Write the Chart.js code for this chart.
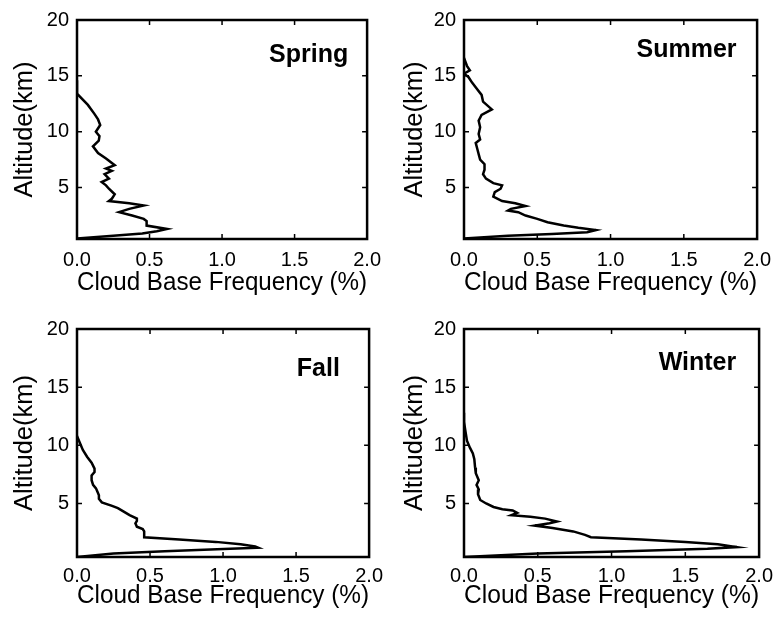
<!DOCTYPE html>
<html>
<head>
<meta charset="utf-8">
<script src="https://cdn.jsdelivr.net/npm/chart.js@4/dist/chart.umd.min.js"></script>
<style>
  html, body { margin: 0; padding: 0; background: #fff; }
  #wrap { position: relative; width: 780px; height: 618px; overflow: hidden; }
  canvas { position: absolute; }
</style>
</head>
<body>
<div id="wrap">
  <canvas id="spring" width="390" height="309" style="left:0;top:0"></canvas>
  <canvas id="summer" width="390" height="309" style="left:390px;top:0"></canvas>
  <canvas id="fall" width="390" height="309" style="left:0;top:309px"></canvas>
  <canvas id="winter" width="390" height="309" style="left:390px;top:309px"></canvas>
</div>
<script>
// Axis ticks
const xTicks = [0, 0.5, 1.0, 1.5, 2.0];
const yTicks = [5, 10, 15, 20];

// Cloud base frequency (%) vs altitude (km)
const springAlt  = [14.6, 13.4, 12.4, 11.6, 11.1, 10.6, 10.0, 9.6, 9.2, 8.7, 8.1, 7.6, 7.0, 6.7, 6.5, 6.2, 5.8, 5.5, 5.2, 4.9, 4.4, 4.0, 3.8, 3.6, 3.4, 3.1, 2.8, 2.5, 2.2, 2.0, 1.6, 1.3, 1.1, 0.9, 0.7, 0.45];
const springFreq = [0.0, 0.0, 0.075, 0.12, 0.145, 0.16, 0.13, 0.155, 0.15, 0.11, 0.145, 0.2, 0.26, 0.2, 0.24, 0.19, 0.22, 0.17, 0.2, 0.22, 0.26, 0.24, 0.22, 0.36, 0.46, 0.36, 0.29, 0.38, 0.46, 0.48, 0.48, 0.62, 0.55, 0.45, 0.25, 0.0];

const summerAlt  = [16.6, 15.9, 15.5, 15.2, 14.9, 14.4, 13.8, 13.3, 12.7, 12.0, 11.5, 11.0, 10.4, 9.8, 9.3, 9.0, 8.5, 8.0, 7.5, 7.1, 6.6, 6.2, 5.8, 5.4, 5.2, 4.9, 4.6, 4.2, 3.8, 3.6, 3.35, 3.1, 2.95, 2.8, 2.5, 2.2, 1.9, 1.6, 1.4, 1.2, 1.0, 0.85, 0.7, 0.45];
const summerFreq = [0.0, 0.02, 0.04, 0.0, 0.03, 0.055, 0.09, 0.12, 0.13, 0.19, 0.12, 0.1, 0.11, 0.1, 0.11, 0.08, 0.09, 0.1, 0.11, 0.14, 0.14, 0.13, 0.15, 0.2, 0.26, 0.25, 0.21, 0.2, 0.26, 0.35, 0.42, 0.32, 0.3, 0.37, 0.42, 0.5, 0.57, 0.68, 0.78, 0.9, 0.84, 0.6, 0.3, 0.0];

const fallAlt  = [10.8, 10.2, 9.6, 9.0, 8.5, 8.0, 7.7, 7.4, 7.0, 6.6, 6.3, 6.0, 5.7, 5.4, 5.1, 4.8, 4.6, 4.3, 4.0, 3.7, 3.5, 3.3, 3.0, 2.8, 2.6, 2.1, 1.9, 1.7, 1.5, 1.3, 1.2, 1.1, 0.9, 0.7, 0.4];
const fallFreq = [0.0, 0.02, 0.04, 0.07, 0.1, 0.12, 0.12, 0.1, 0.1, 0.11, 0.13, 0.14, 0.15, 0.15, 0.17, 0.24, 0.28, 0.32, 0.36, 0.41, 0.41, 0.4, 0.41, 0.45, 0.46, 0.46, 0.7, 0.95, 1.12, 1.22, 1.24, 1.05, 0.6, 0.25, 0.0];

const winterAlt  = [12.8, 12.0, 11.2, 10.4, 9.8, 9.3, 8.8, 8.1, 7.6, 7.0, 6.6, 6.2, 5.8, 5.3, 5.0, 4.7, 4.5, 4.4, 4.2, 4.0, 3.85, 3.7, 3.45, 3.3, 3.1, 2.9, 2.6, 2.3, 2.1, 1.9, 1.7, 1.5, 1.25, 1.1, 0.9, 0.7, 0.4];
const winterFreq = [0.0, 0.0, 0.01, 0.02, 0.04, 0.06, 0.07, 0.075, 0.08, 0.1, 0.085, 0.1, 0.095, 0.11, 0.15, 0.2, 0.26, 0.33, 0.36, 0.32, 0.45, 0.55, 0.63, 0.58, 0.48, 0.6, 0.74, 0.82, 0.86, 1.2, 1.5, 1.72, 1.85, 1.65, 1.1, 0.5, 0.0];

const FONT = '"Liberation Sans", Arial, Helvetica, sans-serif';
Chart.defaults.font.family = FONT;
Chart.defaults.color = '#000';

// frame, inward ticks and season label
const framePlugin = {
    id: 'frame',
    afterDatasetsDraw(chart, args, opts) {
        const { ctx, chartArea: a, scales: { x, y } } = chart;
        ctx.save();
        ctx.strokeStyle = '#000';
        ctx.lineWidth = 1.5;
        ctx.beginPath();
        x.ticks.forEach(t => {
            const px = x.getPixelForValue(t.value);
            ctx.moveTo(px, a.bottom); ctx.lineTo(px, a.bottom - 5);
            ctx.moveTo(px, a.top); ctx.lineTo(px, a.top + 5);
        });
        y.ticks.forEach(t => {
            const py = y.getPixelForValue(t.value);
            ctx.moveTo(a.left, py); ctx.lineTo(a.left + 5, py);
            ctx.moveTo(a.right, py); ctx.lineTo(a.right - 5, py);
        });
        ctx.stroke();
        ctx.lineWidth = 2.5;
        ctx.strokeRect(a.left, a.top, a.right - a.left, a.bottom - a.top);

        ctx.fillStyle = '#000';
        ctx.font = 'bold 25px ' + FONT;
        ctx.textAlign = 'right';
        ctx.textBaseline = 'alphabetic';
        ctx.fillText(opts.label, x.getPixelForValue(opts.at[0]), y.getPixelForValue(opts.at[1]));
        ctx.restore();
    }
};

function makePanel(id, label, alt, freq, area, labelAt, tickPad, titlePad) {
    const points = alt.map((a, i) => ({ x: freq[i], y: a }));
    new Chart(document.getElementById(id), {
        type: 'scatter',
        data: {
            datasets: [{
                data: points,
                showLine: true,
                borderColor: '#000',
                borderWidth: 2.5,
                pointRadius: 0,
                tension: 0
            }]
        },
        options: {
            responsive: false,
            animation: false,
            layout: { padding: { left: 0, top: area.top, right: 390 - area.right, bottom: 0 } },
            plugins: {
                legend: { display: false },
                tooltip: { enabled: false },
                frame: { label: label, at: labelAt }
            },
            scales: {
                x: {
                    type: 'linear',
                    min: 0,
                    max: 2,
                    afterBuildTicks: s => { s.ticks = xTicks.map(v => ({ value: v })); },
                    afterFit: s => { s.height = 309 - area.bottom; },
                    ticks: {
                        callback: v => v.toFixed(1),
                        font: { size: 20 },
                        color: '#000',
                        padding: tickPad,
                        maxRotation: 0,
                        autoSkip: false
                    },
                    grid: { display: false, drawTicks: false },
                    border: { display: false },
                    title: {
                        display: true,
                        text: 'Cloud Base Frequency (%)',
                        font: { size: 25 },
                        color: '#000',
                        padding: { top: 0, bottom: titlePad }
                    }
                },
                y: {
                    type: 'linear',
                    min: 0.4,
                    max: 20,
                    afterBuildTicks: s => { s.ticks = yTicks.map(v => ({ value: v })); },
                    afterFit: s => { s.width = area.left; },
                    ticks: {
                        callback: v => String(v),
                        font: { size: 20 },
                        color: '#000',
                        padding: 8,
                        autoSkip: false
                    },
                    grid: { display: false, drawTicks: false },
                    border: { display: false },
                    title: {
                        display: true,
                        text: 'Altitude(km)',
                        font: { size: 25.5 },
                        color: '#000',
                        padding: { top: 10, bottom: 0 }
                    }
                }
            }
        },
        plugins: [framePlugin]
    });
}

makePanel('spring', 'Spring', springAlt, springFreq, { left: 77, top: 12, right: 371, bottom: 239 }, [1.87, 16.2], 9, 11);
makePanel('summer', 'Summer', summerAlt, summerFreq, { left: 74, top: 12, right: 370, bottom: 239 }, [1.86, 16.7], 9, 11);
makePanel('fall', 'Fall', fallAlt, fallFreq, { left: 77, top: 20, right: 371, bottom: 248 }, [1.80, 16.0], 7, 7);
makePanel('winter', 'Winter', winterAlt, winterFreq, { left: 74, top: 20, right: 370, bottom: 248 }, [1.845, 16.5], 7, 7);
</script>
</body>
</html>
